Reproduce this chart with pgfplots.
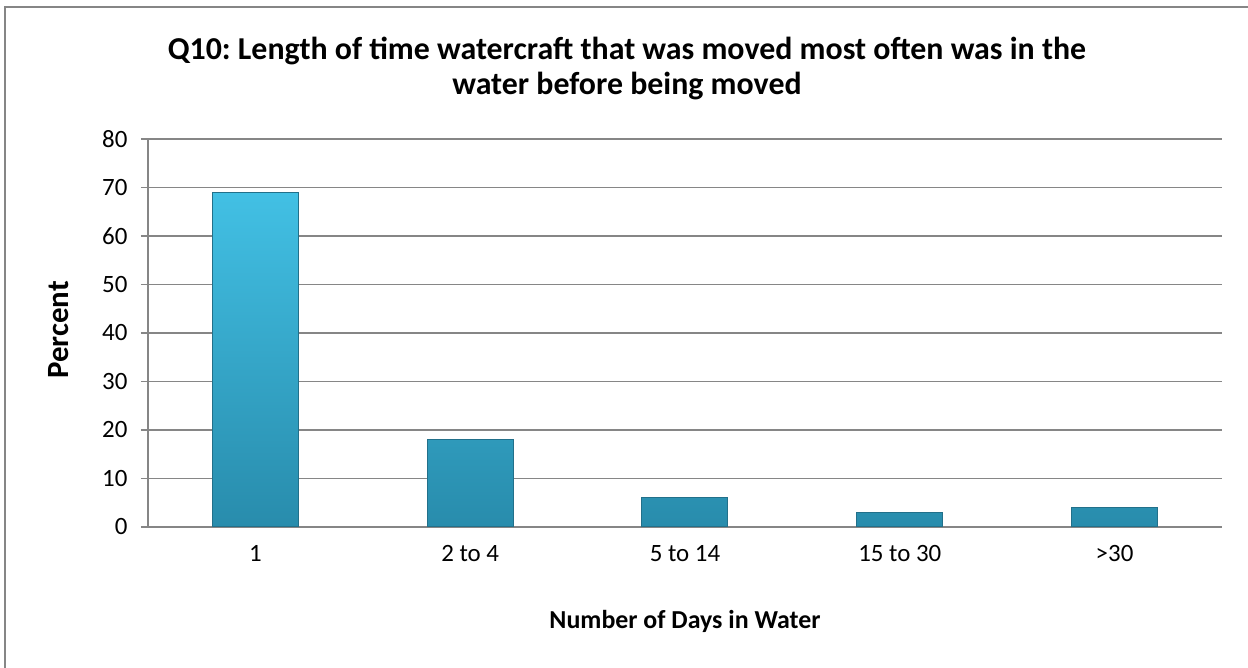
\documentclass[border=0pt]{standalone}
\usepackage{pgfplots}
\pgfplotsset{compat=1.18}
\usepackage{fontspec}
\setmainfont{Carlito}
\frenchspacing

\definecolor{gridgray}{RGB}{134,134,134}
\definecolor{bartop}{RGB}{66,192,228}
\definecolor{barbot}{RGB}{40,140,172}
\definecolor{baredge}{RGB}{34,112,138}

\begin{document}
\begin{tikzpicture}[x=1bp,y=1bp]
  \useasboundingbox (-148,-141) rectangle (1100,527);
  % chart frame (right and bottom edges are cut off in the original)
  \draw[gridgray, line width=1.6bp] (-143,-141) -- (-143,520) -- (1100,520);

  \begin{axis}[
    at={(0,0)}, anchor=origin,
    scale only axis,
    width=1074bp, height=388bp,
    xmin=0.5, xmax=5.5,
    ymin=0, ymax=80,
    ytick={0,10,...,80},
    xtick={1,2,3,4,5},
    xticklabels={1,2 to 4,5 to 14,15 to 30,>30},
    axis x line*=bottom,
    axis y line*=left,
    axis line style={gridgray, line width=1.4bp},
    x axis line style={-},
    y axis line style={-},
    ymajorgrids,
    grid style={gridgray, line width=1.4bp},
    major x tick style={draw=none},
    major y tick style={gridgray, line width=1.4bp},
    tick align=outside,
    major tick length=7bp,
    ticklabel style={font=\fontsize{25}{30}\selectfont, text=black},
    yticklabel style={xshift=-10bp},
    xticklabel style={yshift=-8bp},
    /pgf/number format/assume math mode=true,
    clip=false,
  ]
    \addplot[ybar, bar width=86bp, bar shift=0pt,
      draw=baredge, line width=1bp,
      top color=bartop, bottom color=barbot]
      coordinates {(1,69) (2,18) (3,6) (4,3) (5,4)};
  \end{axis}

  \node[anchor=base, font=\fontsize{32}{36}\bfseries] at (479,467)
    {Q10: Length of time watercraft that was moved most often was in the};
  \node[anchor=base, font=\fontsize{32}{36}\bfseries] at (479,432)
    {water before being moved};
  \node[anchor=base, font=\fontsize{26}{30}\bfseries] at (537,-102)
    {Number of Days in Water};
  \node[anchor=base, rotate=90, font=\fontsize{31}{36}\bfseries] at (-79,197)
    {Percent};
\end{tikzpicture}
\end{document}
